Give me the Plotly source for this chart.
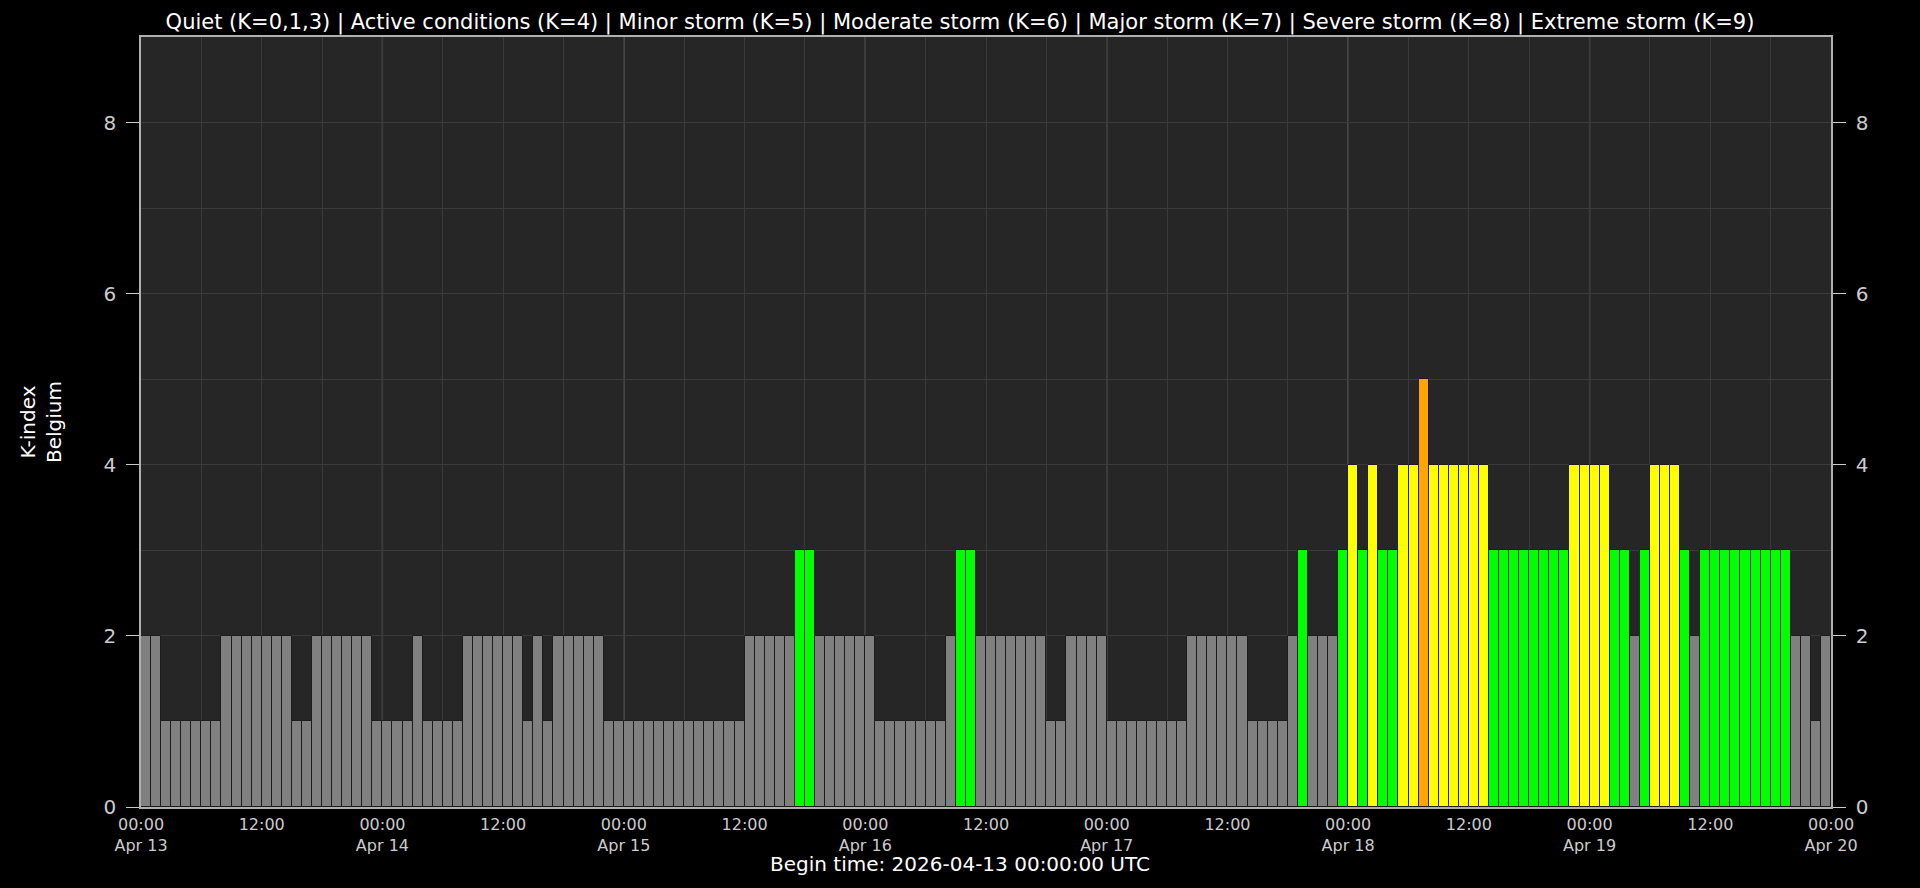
import pandas as pd
import plotly.graph_objects as go

# Hourly K-index values (Belgium), 2026-04-13 00:00 .. 2026-04-20 00:00
k_apr13 = [2, 2, 1, 1, 1, 1, 1, 1, 2, 2, 2, 2, 2, 2, 2, 1, 1, 2, 2, 2, 2, 2, 2, 1]
k_apr14 = [1, 1, 1, 2, 1, 1, 1, 1, 2, 2, 2, 2, 2, 2, 1, 2, 1, 2, 2, 2, 2, 2, 1, 1]
k_apr15 = [1, 1, 1, 1, 1, 1, 1, 1, 1, 1, 1, 1, 2, 2, 2, 2, 2, 3, 3, 2, 2, 2, 2, 2]
k_apr16 = [2, 1, 1, 1, 1, 1, 1, 1, 2, 3, 3, 2, 2, 2, 2, 2, 2, 2, 1, 1, 2, 2, 2, 2]
k_apr17 = [1, 1, 1, 1, 1, 1, 1, 1, 2, 2, 2, 2, 2, 2, 1, 1, 1, 1, 2, 3, 2, 2, 2, 3]
k_apr18 = [4, 3, 4, 3, 3, 4, 4, 5, 4, 4, 4, 4, 4, 4, 3, 3, 3, 3, 3, 3, 3, 3, 4, 4]
k_apr19 = [4, 4, 3, 3, 2, 3, 4, 4, 4, 3, 2, 3, 3, 3, 3, 3, 3, 3, 3, 3, 2, 2, 1, 2]

days = ["2026-04-13", "2026-04-14", "2026-04-15", "2026-04-16",
        "2026-04-17", "2026-04-18", "2026-04-19", "2026-04-20"]
day_labels = ["Apr 13", "Apr 14", "Apr 15", "Apr 16", "Apr 17", "Apr 18", "Apr 19", "Apr 20"]

k_values = k_apr13 + k_apr14 + k_apr15 + k_apr16 + k_apr17 + k_apr18 + k_apr19
bar_times = pd.date_range("2026-04-13 00:30", periods=len(k_values), freq="h")

k_colors = {0: "#808080", 1: "#808080", 2: "#808080", 3: "#00ff00",
            4: "#ffff00", 5: "#ffa500", 6: "#ff6600", 7: "#ff0000",
            8: "#cc0000", 9: "#990000"}
colors = [k_colors[k] for k in k_values]

tick_vals, tick_text = [], []
for d, lab in zip(days, day_labels):
    tick_vals.append(pd.Timestamp(d))
    tick_text.append("00:00<br>" + lab)
    if d != days[-1]:
        tick_vals.append(pd.Timestamp(d) + pd.Timedelta(hours=12))
        tick_text.append("12:00")
grid_vals = list(pd.date_range(days[0], days[-1], freq="6h"))

FONT = "DejaVu Sans"
GRID = "#3b3b3b"
LABEL = "#cccccc"

fig = go.Figure()
fig.add_trace(go.Bar(
    x=bar_times, y=k_values, width=3600 * 1000,
    marker=dict(color=colors, line=dict(color="#1c1c1c", width=1)),
    showlegend=False,
))
fig.add_trace(go.Scatter(
    x=[bar_times[0]], y=[k_values[0]], yaxis="y2", mode="markers",
    marker=dict(opacity=0), showlegend=False, hoverinfo="skip",
))

for d in days[1:-1]:
    fig.add_vline(x=pd.Timestamp(d), line=dict(color="#666666", width=1.3), layer="below")

yaxis_common = dict(
    range=[0, 9], tickmode="array", tickvals=[0, 2, 4, 6, 8],
    ticks="outside", ticklen=13, tickwidth=1.3,
    tickcolor=LABEL, tickfont=dict(family=FONT, size=20, color=LABEL),
    ticklabelstandoff=6,
    showline=True, linecolor="#b0b0b0", linewidth=1.5, zeroline=False,
    fixedrange=True,
)

fig.update_layout(
    width=1920, height=888,
    paper_bgcolor="#000000", plot_bgcolor="#262626",
    margin=dict(l=141, r=89, t=37, b=81),
    bargap=0,
    title=dict(
        text="Quiet (K=0,1,3) | Active conditions (K=4) | Minor storm (K=5) | "
             "Moderate storm (K=6) | Major storm (K=7) | Severe storm (K=8) | Extreme storm (K=9)",
        x=0.5, xanchor="center", y=1 - 22 / 888, yanchor="middle",
        font=dict(family=FONT, size=21, color="#ffffff"),
    ),
    xaxis=dict(
        type="date", range=[days[0], days[-1]],
        tickmode="array", tickvals=tick_vals, ticktext=tick_text,
        tickfont=dict(family=FONT, size=16, color=LABEL), ticks="",
        ticklabelstandoff=2,
        showgrid=False,
        minor=dict(tickmode="array", tickvals=grid_vals, showgrid=True,
                   gridcolor=GRID, gridwidth=1, ticks=""),
        showline=True, linecolor="#b0b0b0", linewidth=1.5, mirror=True,
        zeroline=False,
    ),
    yaxis=dict(
        **yaxis_common,
        showgrid=True, gridcolor=GRID, gridwidth=1,
        minor=dict(dtick=1, showgrid=True, gridcolor=GRID, gridwidth=1, ticks=""),
    ),
    yaxis2=dict(**yaxis_common, overlaying="y", side="right", showgrid=False),
    annotations=[
        dict(text="K-index<br>Belgium", textangle=-90, xref="paper", yref="paper",
             x=(41 - 141) / 1690, y=0.5, xanchor="center", yanchor="middle",
             showarrow=False, font=dict(family=FONT, size=20, color="#ffffff")),
        dict(text="Begin time: 2026-04-13 00:00:00 UTC", xref="paper", yref="paper",
             x=(960 - 141) / 1690, y=(807 - 864) / 770, xanchor="center", yanchor="middle",
             showarrow=False, font=dict(family=FONT, size=20, color="#ffffff")),
    ],
)

fig.write_html(
    "out.html",
    config={"displayModeBar": False},
    post_script="document.body.style.margin='0';document.body.style.overflow='hidden';"
                "document.body.style.background='#000';",
)
